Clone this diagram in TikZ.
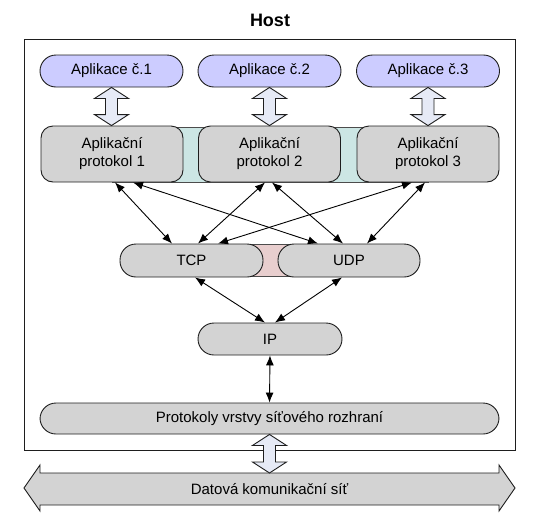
\documentclass[tikz,border=0pt]{standalone}
\usepackage{fontspec}
\setmainfont{Liberation Sans}
\usetikzlibrary{calc,arrows.meta}
\definecolor{appfill}{RGB}{204,204,255}
\definecolor{boxfill}{RGB}{211,211,211}
\definecolor{tealband}{RGB}{204,230,228}
\definecolor{pinkband}{RGB}{232,206,206}
\definecolor{hollowfill}{RGB}{230,234,246}
\definecolor{edge}{RGB}{30,30,30}
\tikzset{
  txt/.style={font=\fontsize{15}{18}\selectfont, text=black},
  appbox/.style={txt, draw=edge, line width=0.9pt, fill=appfill, rounded corners=16pt,
     minimum width=143pt, minimum height=32pt, inner sep=0pt},
  protobox/.style={txt, draw=edge, line width=0.9pt, fill=boxfill, rounded corners=12pt,
     minimum width=142pt, minimum height=56pt, inner sep=0pt, align=center},
  pillbox/.style={txt, draw=edge, line width=0.9pt, fill=boxfill, rounded corners=16pt,
     minimum height=32pt, inner sep=0pt},
  band/.style={draw=black!70, line width=0.6pt},
  link/.style={line width=0.9pt, {Latex[length=10pt,width=8pt]}-{Latex[length=10pt,width=8pt]}},
  hollow/.style={draw=edge, line width=0.9pt, fill=hollowfill, line join=miter},
}
\newcommand{\hollowarr}[2]{% #1 top point, #2 bottom point (same x)
  \path[hollow] let \p1=(#1), \p2=(#2) in
    (\x1,\y1) -- (\x1+17pt,\y1-11pt) -- (\x1+6pt,\y1-11pt) -- (\x1+6pt,\y2+11pt)
    -- (\x1+17pt,\y2+11pt) -- (\x1,\y2) -- (\x1-17pt,\y2+11pt) -- (\x1-6pt,\y2+11pt)
    -- (\x1-6pt,\y1-11pt) -- (\x1-17pt,\y1-11pt) -- cycle;}
\begin{document}
\begin{tikzpicture}[x=1pt,y=-1pt]
\useasboundingbox (0,0) rectangle (547,520);
% host frame
\node[font=\fontsize{18}{20}\selectfont\bfseries] (host) at (270,20) {Host};
\draw[line width=0.9pt, draw=edge] (24,39) rectangle (515,450);
% bands
\coordinate (tb1) at (112,127);
\coordinate (tb2) at (428,182);
\filldraw[band, fill=tealband] (tb1) rectangle (tb2);
\coordinate (pb1) at (191,244.5);
\coordinate (pb2) at (349,276.5);
\filldraw[band, fill=pinkband] (pb1) rectangle (pb2);
% applications
\node[appbox] (app1) at (111.5,71) {Aplikace č.1};
\node[appbox] (app2) at (269.5,71) {Aplikace č.2};
\node[appbox] (app3) at (428,71) {Aplikace č.3};
% protocols
\node[protobox] (p1) at (112,154) {Aplikační\\protokol 1};
\node[protobox] (p2) at (269.5,154) {Aplikační\\protokol 2};
\node[protobox] (p3) at (428,154) {Aplikační\\protokol 3};
% transport
\node[pillbox, minimum width=143pt, minimum height=33pt] (tcp) at (191.5,260.5) {TCP};
\node[pillbox, minimum width=142pt, minimum height=33pt] (udp) at (349,260.5) {UDP};
\node[pillbox, minimum width=144pt] (ip) at (270,339) {IP};
\node[pillbox, minimum width=459pt, minimum height=31pt] (prot) at (269.5,418.5) {Protokoly vrstvy síťového rozhraní};
% hollow arrows
\hollowarr{app1.south}{p1.north}
\hollowarr{app2.south}{p2.north}
\hollowarr{app3.south}{p3.north}
% links
\draw[link] ($(p1.south)+(3,0)$) -- ($(tcp.north)+(-19.5,0)$);
\draw[link] ($(p1.south)+(21,0)$) -- ($(udp.north)+(-31,0)$);
\draw[link] ($(p2.south)+(-4.5,0)$) -- ($(tcp.north)+(6.5,0)$);
\draw[link] ($(p2.south)+(2.5,0)$) -- ($(udp.north)+(-6,0)$);
\draw[link] ($(p3.south)+(-16,0)$) -- ($(tcp.north)+(26.5,0)$);
\draw[link] ($(p3.south)+(-3,0)$) -- ($(udp.north)+(18,0)$);
\draw[link] ($(tcp.south)+(3.5,0)$) -- ($(ip.north)+(-5,0)$);
\draw[link] ($(udp.south)+(-7,0)$) -- ($(ip.north)+(5,0)$);
\draw[link] (ip.south) -- (prot.north);
% network arrow
\filldraw[draw=edge, line width=0.9pt, fill=boxfill, line join=miter]
  (24,488) -- (40,465) -- (40,473) -- (499,473) -- (499,465) -- (515,488)
  -- (499,511) -- (499,505) -- (40,505) -- (40,511) -- cycle;
\node[txt] (net) at (269.5,489) {Datová komunikační síť};
\coordinate (nettop) at (269.5,473);
\hollowarr{prot.south}{nettop}
\end{tikzpicture}
\end{document}
